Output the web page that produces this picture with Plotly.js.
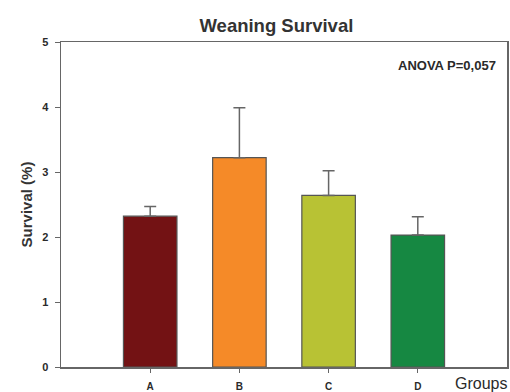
<!DOCTYPE html>
<html><head><meta charset="utf-8">
<script src="https://cdn.plot.ly/plotly-3.0.1.min.js"></script>
<style>html,body{margin:0;padding:0;background:#fff}#c{width:510px;height:392px}</style>
</head><body><div id="c"></div>
<script>
const groups = ['A', 'B', 'C', 'D'];
const survival = [2.32, 3.22, 2.64, 2.03];
const errUp = [0.15, 0.77, 0.38, 0.28];
const barColors = ['#731214', '#F58A28', '#B8C234', '#168842'];

const trace = {
  type: 'bar', x: groups, y: survival, width: 0.6,
  marker: {color: barColors, line: {color: '#555', width: 1.2}},
  error_y: {type: 'data', symmetric: false, array: errUp, arrayminus: [0,0,0,0], visible: true, color: '#666', thickness: 1.5, width: 6}
};
const layout = {
  width: 510, height: 392,
  margin: {l: 61, r: 3, t: 42, b: 25},
  paper_bgcolor: '#fff', plot_bgcolor: '#fff',
  font: {family: 'Liberation Sans, Arial, sans-serif', color: '#2a2a2a'},
  title: {text: 'Weaning Survival', font: {size: 18.5, weight: 'bold', color: '#333'}, x: 0.542, xanchor: 'center', y: 0.936, yanchor: 'middle'},
  showlegend: false,
  xaxis: {type: 'category', range: [-1, 4], showgrid: false, zeroline: false,
    showline: true, linecolor: '#666', linewidth: 1.5, mirror: true,
    ticks: 'outside', ticklen: 4, tickcolor: '#666', ticklabelstandoff: 5,
    tickfont: {size: 10, weight: 'bold'}},
  yaxis: {range: [0, 5], dtick: 1, showgrid: false, zeroline: false,
    showline: true, linecolor: '#666', linewidth: 1.5, mirror: true,
    ticks: 'outside', ticklen: 5, tickcolor: '#666', ticklabelstandoff: 4,
    tickfont: {size: 11, weight: 'bold'},
    title: {text: 'Survival (%)', font: {size: 15, weight: 'bold', color: '#333'}, standoff: 6}},
  annotations: [
    {text: 'ANOVA P=0,057', xref: 'paper', yref: 'paper', x: 0.98, y: 0.928, xanchor: 'right', yanchor: 'middle', showarrow: false, font: {size: 13, weight: 'bold', color: '#2a2a2a'}},
    {text: 'Groups', xref: 'paper', yref: 'paper', x: 1.005, y: -0.052, xanchor: 'right', yanchor: 'middle', showarrow: false, font: {size: 16}}
  ]
};
Plotly.newPlot('c', [trace], layout, {displayModeBar: false, staticPlot: true});
</script></body></html>
